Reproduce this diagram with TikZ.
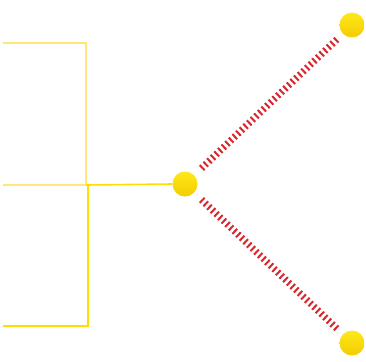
\documentclass[tikz,border=0pt]{standalone}
\begin{document}
\begin{tikzpicture}[x=1pt,y=-1pt,
  ball/.style={circle,minimum size=25pt,inner sep=0pt,top color=ballTop,bottom color=ballBot,draw=none},
  hatch/.style={draw=hatchRed,line width=7pt,dash pattern=on 2pt off 3pt},
  lightline/.style={draw=lightYel,line width=1.6pt},
  darkline/.style={draw=darkYel,line width=1.6pt}]
\definecolor{ballTop}{HTML}{FFE81A}
\definecolor{ballBot}{HTML}{F2CC00}
\definecolor{hatchRed}{HTML}{D8262C}
\definecolor{lightYel}{HTML}{FFE879}
\definecolor{darkYel}{HTML}{FFDD00}
\useasboundingbox (0,0) rectangle (366,361);
\node[ball] (c) at (185,184) {};
\node[ball] (t) at (352,25) {};
\node[ball] (b) at (352,343) {};
\coordinate (u1) at (3,43);
\coordinate (u2) at (86,43);
\coordinate (u3) at (86,185);
\coordinate (u4) at (3,185);
\coordinate (l1) at (88,185);
\coordinate (l2) at (88,326);
\coordinate (l3) at (3,326);
\draw[lightline] (u1) -- (u2) -- (u3) -- (u4);
\draw[darkline] (u3) -- (c.west);
\draw[darkline] (l1) -- (l2) -- (l3);
\draw[hatch,shorten <=10pt,shorten >=6pt] (c) -- (t);
\draw[hatch,shorten <=10pt,shorten >=6pt] (c) -- (b);
\end{tikzpicture}
\end{document}
